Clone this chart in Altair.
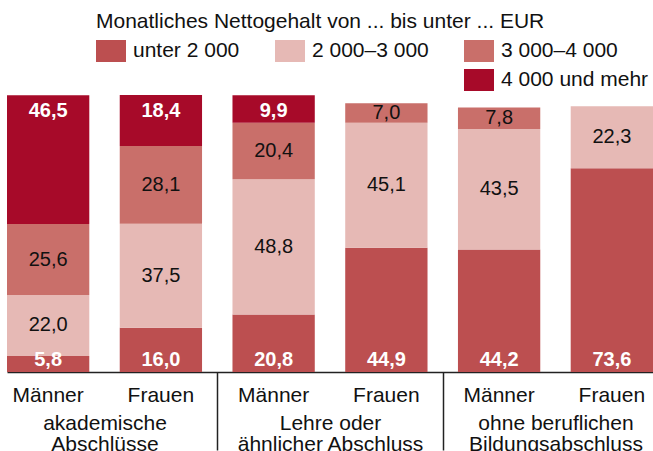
import altair as alt
import pandas as pd

FONT = "Liberation Sans"

bar_ids = ["akad_M", "akad_F", "lehre_M", "lehre_F", "ohne_M", "ohne_F"]
group_ids = ["akad", "lehre", "ohne"]

categories = ["unter 2 000", "2 000–3 000", "3 000–4 000", "4 000 und mehr"]
unter_2000 = [5.8, 16.0, 20.8, 44.9, 44.2, 73.6]
von_2000_3000 = [22.0, 37.5, 48.8, 45.1, 43.5, 22.3]
von_3000_4000 = [25.6, 28.1, 20.4, 7.0, 7.8, None]
ab_4000 = [46.5, 18.4, 9.9, None, None, None]
series = [unter_2000, von_2000_3000, von_3000_4000, ab_4000]

colors = ["#bc4f50", "#e6b9b5", "#c96f6a", "#a70a29"]

rows = []
for ci, (cat, vals) in enumerate(zip(categories, series)):
    for b, v in zip(bar_ids, vals):
        if v is not None:
            rows.append({"bar": b, "cat": cat, "idx": ci, "value": v})
df = pd.DataFrame(rows)

legend_domain = [categories[0], categories[1], categories[2], "d1", "d2", categories[3]]
legend_range = [colors[0], colors[1], colors[2], "rgba(0,0,0,0)", "rgba(0,0,0,0)", colors[3]]

WIDTH = 646
xscale = alt.Scale(type="band", domain=bar_ids, paddingInner=0.27, paddingOuter=0)
yscale = alt.Scale(domain=[0, 100])
GROUP_HALF_STEP = WIDTH / (3 - 0.135) / 2

base = alt.Chart(df).transform_window(
    cum="sum(value)", groupby=["bar"], sort=[alt.SortField("idx")], frame=[None, 0]
).transform_calculate(
    start="datum.cum - datum.value",
    mid="datum.cum - datum.value / 2",
    lab="replace(format(datum.value, '.1f'), '.', ',')",
)

x_enc = alt.X(
    "bar:N", sort=bar_ids, scale=xscale, title=None,
    axis=alt.Axis(
        orient="bottom", ticks=False, domain=True, domainColor="#222", domainWidth=1.5,
        labelExpr="indexof(datum.value, '_M') > 0 ? 'Männer' : 'Frauen'",
        labelAngle=0, labelPadding=12, labelFontSize=21, labelFont=FONT,
        labelColor="#111", labelBaseline="top",
    ),
)

bars = base.mark_bar().encode(
    x=x_enc,
    y=alt.Y("start:Q", scale=yscale, axis=None),
    y2="cum:Q",
    color=alt.Color(
        "cat:N",
        scale=alt.Scale(domain=legend_domain, range=legend_range),
        legend=alt.Legend(
            orient="none", legendX=89, legendY=-84, direction="horizontal",
            columns=3, gridAlign="each", columnPadding=35, rowPadding=3,
            title="Monatliches Nettogehalt von ... bis unter ... EUR",
            titleFont=FONT, titleFontSize=21, titleFontWeight="normal",
            titleColor="#111", titlePadding=4, titleLimit=600, titleAnchor="start",
            labelFont=FONT, labelFontSize=21, labelColor="#111", labelOffset=7,
            labelLimit=300,
            labelExpr="datum.label == 'd1' || datum.label == 'd2' ? '' : datum.label",
            symbolType="M-1,-0.733H1V0.733H-1Z", symbolSize=900,
            symbolStrokeWidth=0, symbolOpacity=1,
        ),
    ),
)

top_lab = base.transform_filter("datum.idx == 3").mark_text(
    font=FONT, fontSize=20, fontWeight="bold", color="white", baseline="middle", dy=16
).encode(x=alt.X("bar:N", sort=bar_ids), y=alt.Y("cum:Q"), text="lab:N")

bot_lab = base.transform_filter("datum.idx == 0").mark_text(
    font=FONT, fontSize=20, fontWeight="bold", color="white", baseline="middle", dy=-12
).encode(x=alt.X("bar:N", sort=bar_ids), y=alt.Y("start:Q"), text="lab:N")

mid_lab = base.transform_filter("datum.idx == 1 || datum.idx == 2").mark_text(
    font=FONT, fontSize=20, color="#111", baseline="middle"
).encode(x=alt.X("bar:N", sort=bar_ids), y=alt.Y("mid:Q"), text="lab:N")

inner = alt.layer(bars, top_lab, bot_lab, mid_lab)

grp_df = pd.DataFrame({"grp": group_ids})
grp_layer = alt.Chart(grp_df).mark_text(opacity=0).encode(
    x=alt.X(
        "grp:N", sort=group_ids, title=None,
        scale=alt.Scale(type="band", domain=group_ids, paddingInner=0.135, paddingOuter=0),
        axis=alt.Axis(
            orient="bottom", domain=False, ticks=True,
            tickOffset=GROUP_HALF_STEP, labelOffset=-GROUP_HALF_STEP,
            tickSize=78, tickColor="#222", tickWidth=1.5,
            labelExpr="datum.value == 'akad' ? ['akademische', 'Abschlüsse'] : datum.value == 'lehre' ? ['Lehre oder', 'ähnlicher Abschluss'] : ['ohne beruflichen', 'Bildungsabschluss']",
            labelAngle=0, labelPadding=-38, labelFontSize=21, labelFont=FONT,
            labelColor="#111", labelBaseline="top", labelLineHeight=21,
            labelLimit=400, labelOverlap=False,
        ),
    ),
    text=alt.value(""),
)

chart = alt.layer(inner, grp_layer).resolve_scale(x="independent").resolve_axis(
    x="independent"
).properties(
    width=WIDTH, height=277,
    title=alt.TitleParams(
        "Anteile in %", anchor="start", frame="group", font=FONT, fontSize=21,
        fontWeight="normal", color="#111", baseline="alphabetic", offset=9,
    ),
    autosize=alt.AutoSizeParams(type="none"),
    padding={"left": 7, "top": 95, "right": 0, "bottom": 79},
).configure_view(stroke=None)

chart.save("out.html", embed_options={"renderer": "svg", "actions": False})
